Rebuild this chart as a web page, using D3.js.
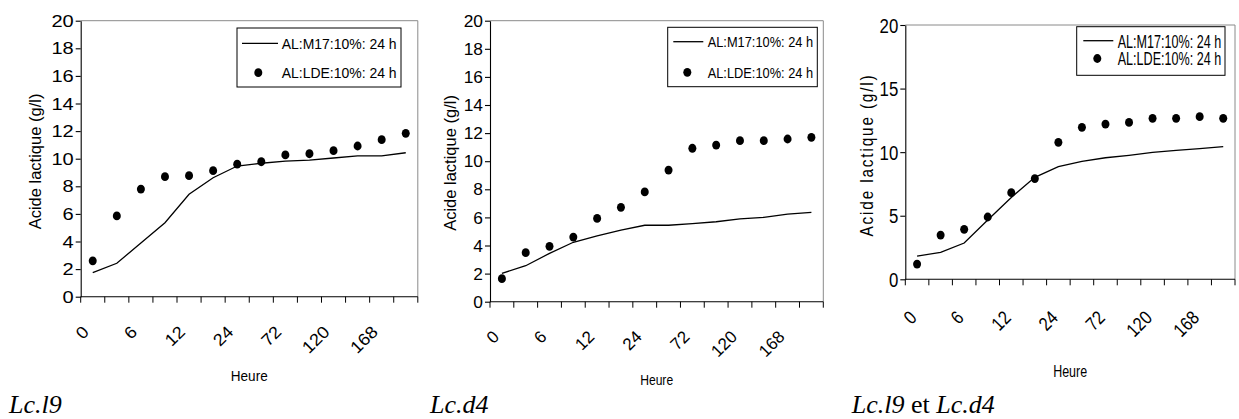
<!DOCTYPE html>
<html>
<head>
<meta charset="utf-8">
<script src="https://cdn.jsdelivr.net/npm/d3@7"></script>
<style>
  html, body { margin: 0; padding: 0; background: #fff; }
  svg { display: block; }
  text { font-family: "Liberation Sans", Arial, sans-serif; fill: #000; }
  .caption { font-family: "Liberation Serif", "Times New Roman", serif; }
</style>
</head>
<body>
<svg id="chart" width="1239" height="419"></svg>
<script>
// Sampling times (h): one category per sample, every other one labelled
const hours = ["0", "3", "6", "9", "12", "18", "24", "48", "72", "96", "120", "144", "168", "192"];
const hourLabels = ["0", "6", "12", "24", "72", "120", "168"];

// Lactic acid (g/l), Lc.l9
const l9M17 = [1.74, 2.42, 3.9, 5.36, 7.42, 8.62, 9.47, 9.67, 9.83, 9.9, 10.05, 10.2, 10.2, 10.43];
const l9LDE = [2.6, 5.85, 7.8, 8.7, 8.77, 9.13, 9.6, 9.78, 10.27, 10.36, 10.58, 10.92, 11.38, 11.84];

// Lactic acid (g/l), Lc.d4
const d4M17 = [2.02, 2.56, 3.44, 4.23, 4.68, 5.1, 5.44, 5.44, 5.55, 5.69, 5.89, 6.0, 6.24, 6.36];
const d4LDE = [1.64, 3.49, 3.94, 4.6, 5.93, 6.72, 7.81, 9.37, 10.92, 11.15, 11.46, 11.46, 11.58, 11.7];

// Lactic acid (g/l), Lc.l9 + Lc.d4
const mixM17 = [1.83, 2.12, 2.85, 4.66, 6.44, 8.02, 8.86, 9.27, 9.56, 9.75, 9.98, 10.14, 10.27, 10.43];
const mixLDE = [1.2, 3.48, 3.93, 4.9, 6.81, 7.92, 10.77, 11.95, 12.21, 12.34, 12.66, 12.66, 12.79, 12.66];

const yTicksFine = [0, 2, 4, 6, 8, 10, 12, 14, 16, 18, 20];
const yTicksCoarse = [0, 5, 10, 15, 20];

const seriesNames = ["AL:M17:10%: 24 h", "AL:LDE:10%: 24 h"];
const yTitle = "Acide lactique (g/l)";
const xTitle = "Heure";

const svg = d3.select("#chart");

// Draw text around an anchor point; the glyphs can be squeezed or widened
// horizontally, either by a fixed factor (sx) or to fit a given width (w)
function label(g, x, y, str, opt) {
  const o = Object.assign({ size: 14, sx: 1, w: null, anchor: "start", rotate: 0, dy: null, spacing: 0, cls: null }, opt || {});
  const t = g.append("text")
    .attr("font-size", o.size)
    .attr("text-anchor", o.anchor)
    .text(str);
  if (o.dy) t.attr("dy", o.dy);
  if (o.spacing) t.attr("letter-spacing", o.spacing);
  if (o.cls) t.attr("class", o.cls);
  let sx = o.sx;
  if (o.w) {
    const natural = t.node().getComputedTextLength();
    if (natural > 0) sx = o.w / natural;
  }
  t.attr("transform", `translate(${x},${y}) rotate(${o.rotate}) scale(${sx},1)`);
  return t;
}

const panels = [
  {
    m17: l9M17, lde: l9LDE, yTicks: yTicksFine,
    box: { left: 80.7, right: 417.8, top: 20.7, bottom: 296.7 },
    tickFont: { size: 17, sx: 1.18 }, xLab: { dx: -7, dy: 32, size: 17, sx: 1.08 },
    yTitle: { x: 35, y: 161.5, size: 16.5, sx: 1, spacing: 0 },
    xTitle: { y: 381, size: 15, w: 37 },
    legend: { x0: 237, x1: 401, y0: 28, y1: 87, lineX0: 242, lineX1: 278, y1row: 43.3, y2row: 72.7,
              dotX: 258.3, textX: 281.7, size: 15, w: 115 },
    caption: { x: 9, parts: [["Lc.l9", true]] }
  },
  {
    m17: d4M17, lde: d4LDE, yTicks: yTicksFine,
    box: { left: 490, right: 823.3, top: 20.7, bottom: 301.7 },
    tickFont: { size: 17, sx: 1.02 }, xLab: { dx: -6, dy: 32, size: 17, sx: 1.0 },
    yTitle: { x: 450, y: 163, size: 16.5, sx: 1, spacing: 0 },
    xTitle: { y: 385, size: 15, w: 33 },
    legend: { x0: 667.7, x1: 817.3, y0: 27.3, y1: 86.7, lineX0: 673.3, lineX1: 703.3, y1row: 41.7, y2row: 72.3,
              dotX: 687.3, textX: 707.7, size: 14.5, w: 105.5 },
    caption: { x: 430, parts: [["Lc.d4", true]] }
  },
  {
    m17: mixM17, lde: mixLDE, yTicks: yTicksCoarse,
    box: { left: 905.3, right: 1235, top: 25, bottom: 279.3 },
    tickFont: { size: 21, sx: 0.8 }, xLab: { dx: -4, dy: 35, size: 19, sx: 0.85 },
    yTitle: { x: 866.7, y: 155, size: 18, sx: 0.85, spacing: 2.2 },
    xTitle: { y: 377, size: 17, w: 34 },
    legend: { x0: 1076.7, x1: 1225, y0: 26.7, y1: 75.3, lineX0: 1083.3, lineX1: 1113.3, y1row: 40.7, y2row: 58.5,
              dotX: 1097.3, textX: 1117.7, size: 19, w: 103.5 },
    caption: { x: 851.7, parts: [["Lc.l9", true], [" et ", false], ["Lc.d4", true]] }
  }
];

panels.forEach(p => {
  const b = p.box;
  const g = svg.append("g");

  const x = d3.scaleBand().domain(hours).range([b.left, b.right]).padding(0);
  const y = d3.scaleLinear().domain([0, 20]).range([b.bottom, b.top]);
  const cx = h => x(h) + x.bandwidth() / 2;

  // Plot-area frame: grey on top and right
  g.append("path")
    .attr("d", `M${b.left},${b.top}H${b.right}V${b.bottom}`)
    .attr("fill", "none").attr("stroke", "#8a8a8a").attr("stroke-width", 1);

  // Value axis
  const yAxis = g.append("g")
    .attr("transform", `translate(${b.left},0)`)
    .call(d3.axisLeft(y).tickValues(p.yTicks).tickSize(5).tickSizeOuter(0).tickFormat(() => ""));
  yAxis.selectAll("path, line").attr("stroke", "#000").attr("stroke-width", 1.1);
  p.yTicks.forEach(v => {
    label(g, b.left - 7, y(v), String(v), { size: p.tickFont.size, sx: p.tickFont.sx, anchor: "end", dy: "0.36em" });
  });

  // Category axis: ticks sit on category boundaries
  const bounds = hours.map(h => x(h)).concat([b.right]);
  const xAxis = g.append("g").attr("transform", `translate(0,${b.bottom})`);
  xAxis.append("line")
    .attr("x1", b.left).attr("x2", b.right).attr("y1", 0).attr("y2", 0)
    .attr("stroke", "#000").attr("stroke-width", 1.1);
  xAxis.selectAll("line.tick").data(bounds).join("line")
    .attr("class", "tick")
    .attr("x1", d => d).attr("x2", d => d).attr("y1", 0).attr("y2", 6)
    .attr("stroke", "#000").attr("stroke-width", 1);

  hours.forEach((h, i) => {
    if (i % 2 !== 0) return;
    const txt = hourLabels[i / 2];
    label(g, cx(h) + p.xLab.dx, b.bottom + p.xLab.dy, txt,
      { size: p.xLab.size, sx: p.xLab.sx, anchor: "end", rotate: -45, dy: "0.35em" });
  });

  // Axis titles
  label(g, p.yTitle.x, p.yTitle.y, yTitle,
    { size: p.yTitle.size, sx: p.yTitle.sx, anchor: "middle", rotate: -90, dy: "0.35em", spacing: p.yTitle.spacing });
  label(g, (b.left + b.right) / 2, p.xTitle.y, xTitle,
    { size: p.xTitle.size, w: p.xTitle.w, anchor: "middle" });

  // M17 series: solid line
  const line = d3.line().x((d, i) => cx(hours[i])).y(d => y(d));
  g.append("path").datum(p.m17)
    .attr("d", line)
    .attr("fill", "none").attr("stroke", "#000").attr("stroke-width", 1.3);

  // LDE series: filled dots
  g.selectAll("ellipse.lde").data(p.lde).join("ellipse")
    .attr("class", "lde")
    .attr("cx", (d, i) => cx(hours[i])).attr("cy", d => y(d))
    .attr("rx", 4).attr("ry", 4.4).attr("fill", "#000");

  // Legend
  const L = p.legend;
  g.append("rect")
    .attr("x", L.x0).attr("y", L.y0).attr("width", L.x1 - L.x0).attr("height", L.y1 - L.y0)
    .attr("fill", "#fff").attr("stroke", "#000").attr("stroke-width", 1);
  g.append("line")
    .attr("x1", L.lineX0).attr("x2", L.lineX1).attr("y1", L.y1row).attr("y2", L.y1row)
    .attr("stroke", "#000").attr("stroke-width", 1.3);
  g.append("ellipse")
    .attr("cx", L.dotX).attr("cy", L.y2row).attr("rx", 4).attr("ry", 4.4).attr("fill", "#000");
  [L.y1row, L.y2row].forEach((yy, k) => {
    label(g, L.textX, yy, seriesNames[k], { size: L.size, w: L.w, dy: "0.36em" });
  });

  // Panel caption
  const cap = g.append("text").attr("class", "caption")
    .attr("x", p.caption.x).attr("y", 413).attr("font-size", 26);
  p.caption.parts.forEach(([s, it]) => {
    cap.append("tspan").attr("font-style", it ? "italic" : "normal").text(s);
  });
});
</script>
</body>
</html>
